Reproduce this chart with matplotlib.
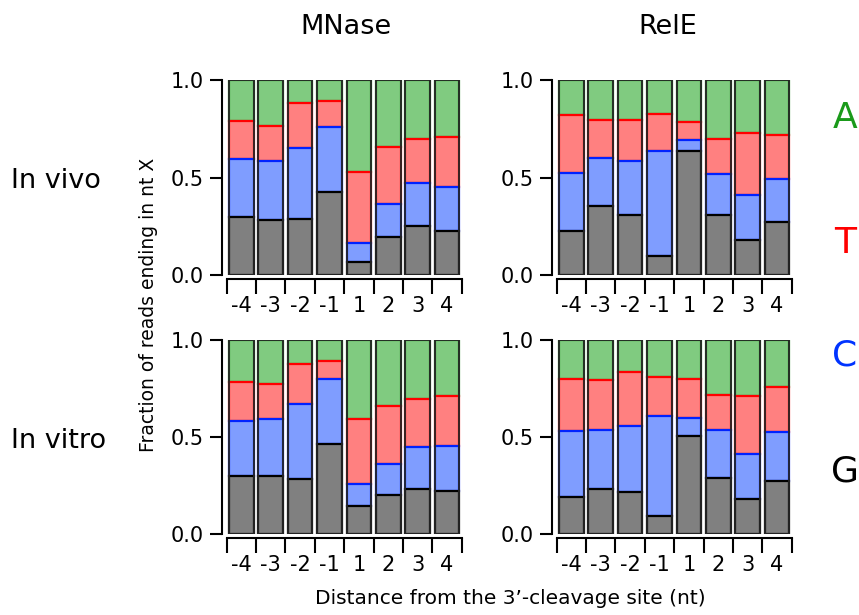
import matplotlib.pyplot as plt
import numpy as np

plt.rcParams["font.family"] = ["DejaVu Sans"]

POSITIONS = ["-4", "-3", "-2", "-1", "1", "2", "3", "4"]

# fraction of reads whose 3' end falls on each nucleotide, per position
MNASE_VIVO_G = [0.300, 0.280, 0.285, 0.424, 0.065, 0.193, 0.251, 0.226]
MNASE_VIVO_C = [0.295, 0.306, 0.368, 0.333, 0.101, 0.169, 0.223, 0.227]
MNASE_VIVO_T = [0.195, 0.178, 0.227, 0.135, 0.360, 0.296, 0.225, 0.253]
MNASE_VIVO_A = [0.210, 0.236, 0.120, 0.108, 0.474, 0.342, 0.301, 0.294]

RELE_VIVO_G = [0.227, 0.354, 0.309, 0.097, 0.638, 0.309, 0.179, 0.274]
RELE_VIVO_C = [0.294, 0.244, 0.276, 0.541, 0.054, 0.209, 0.230, 0.216]
RELE_VIVO_T = [0.298, 0.197, 0.210, 0.186, 0.094, 0.178, 0.317, 0.228]
RELE_VIVO_A = [0.181, 0.205, 0.205, 0.176, 0.214, 0.304, 0.274, 0.282]

MNASE_VITRO_G = [0.301, 0.301, 0.282, 0.463, 0.142, 0.202, 0.232, 0.222]
MNASE_VITRO_C = [0.280, 0.290, 0.390, 0.335, 0.116, 0.159, 0.218, 0.231]
MNASE_VITRO_T = [0.205, 0.183, 0.202, 0.094, 0.337, 0.297, 0.244, 0.256]
MNASE_VITRO_A = [0.214, 0.226, 0.126, 0.108, 0.405, 0.342, 0.306, 0.291]

RELE_VITRO_G = [0.189, 0.234, 0.215, 0.091, 0.504, 0.289, 0.181, 0.272]
RELE_VITRO_C = [0.341, 0.300, 0.341, 0.517, 0.092, 0.245, 0.229, 0.255]
RELE_VITRO_T = [0.270, 0.258, 0.280, 0.203, 0.201, 0.185, 0.301, 0.230]
RELE_VITRO_A = [0.200, 0.208, 0.164, 0.189, 0.203, 0.281, 0.289, 0.243]

BASES = ["G", "C", "T", "A"]
FILL = {"G": "#808080", "C": "#7f9dff", "T": "#ff8080", "A": "#80cb80"}
EDGE = {"G": "#000000", "C": "#0022ff", "T": "#ff0000", "A": "#1f8f1f"}
LETTER = {"A": "#1a9a1a", "T": "#ff0000", "C": "#0033ff", "G": "#000000"}

W, H = 859, 615


def draw_panel(ax, stacks):
    x = np.arange(len(POSITIONS))
    bottoms = []
    acc = np.zeros(len(x))
    for vals in stacks:
        bottoms.append(acc.copy())
        acc = acc + np.asarray(vals)
    # draw from the top segment down so each lower segment's top edge stays visible
    for k in range(len(BASES) - 1, -1, -1):
        b = BASES[k]
        ax.bar(x, stacks[k], bottom=bottoms[k], width=0.84, color=FILL[b],
               edgecolor=EDGE[b], linewidth=1.6, zorder=2 + (3 - k))
    ax.bar(x, acc, width=0.84, fill=False, edgecolor="#262626", linewidth=1.3, zorder=10)

    ax.set_xlim(-0.66, 7.52)
    ax.set_ylim(0, 1)
    for s in ("top", "right"):
        ax.spines[s].set_visible(False)
    ax.spines["left"].set_bounds(0, 1)
    ax.spines["left"].set_linewidth(1.5)
    ax.spines["bottom"].set_position(("outward", 3))
    ax.spines["bottom"].set_bounds(-0.5, 7.5)
    ax.spines["bottom"].set_linewidth(1.5)

    ax.set_yticks([0, 0.5, 1.0])
    ax.set_yticklabels(["0.0", "0.5", "1.0"])
    ax.tick_params(axis="y", direction="out", length=9, width=1.5, pad=4, labelsize=15)

    ax.set_xticks(np.arange(-0.5, 8.0, 1.0))
    ax.set_xticklabels([])
    ax.set_xticks(x, minor=True)
    ax.set_xticklabels(POSITIONS, minor=True)
    ax.tick_params(axis="x", which="major", direction="out", length=11, width=1.5)
    ax.tick_params(axis="x", which="minor", length=0, pad=12, labelsize=15)


fig = plt.figure(figsize=(W / 100, H / 100), dpi=100)

panels = [
    ((222, 80, 275), [MNASE_VIVO_G, MNASE_VIVO_C, MNASE_VIVO_T, MNASE_VIVO_A]),
    ((552, 80, 275), [RELE_VIVO_G, RELE_VIVO_C, RELE_VIVO_T, RELE_VIVO_A]),
    ((222, 340, 534), [MNASE_VITRO_G, MNASE_VITRO_C, MNASE_VITRO_T, MNASE_VITRO_A]),
    ((552, 340, 534), [RELE_VITRO_G, RELE_VITRO_C, RELE_VITRO_T, RELE_VITRO_A]),
]
for (x0, ytop, ybot), stacks in panels:
    ax = fig.add_axes([x0 / W, 1 - ybot / H, 240.3 / W, (ybot - ytop) / H])
    draw_panel(ax, stacks)

fig.text(346 / W, 1 - 27 / H, "MNase", ha="center", va="center", fontsize=19.5)
fig.text(668 / W, 1 - 27 / H, "RelE", ha="center", va="center", fontsize=19.5)
fig.text(11 / W, 1 - 181 / H, "In vivo", ha="left", va="center", fontsize=19.5)
fig.text(11 / W, 1 - 441 / H, "In vitro", ha="left", va="center", fontsize=19.5)
fig.text(148 / W, 1 - 305 / H, "Fraction of reads ending in nt X", rotation=90,
         ha="center", va="center", fontsize=13.5)
fig.text(510 / W, 1 - 598 / H, "Distance from the 3\u2019-cleavage site (nt)",
         ha="center", va="center", fontsize=14.5)

for base, y in zip(["A", "T", "C", "G"], [118, 243, 356, 472]):
    fig.text(845 / W, 1 - y / H, base, ha="center", va="center", fontsize=26,
             color=LETTER[base])

fig.savefig("out.png", dpi=100)
